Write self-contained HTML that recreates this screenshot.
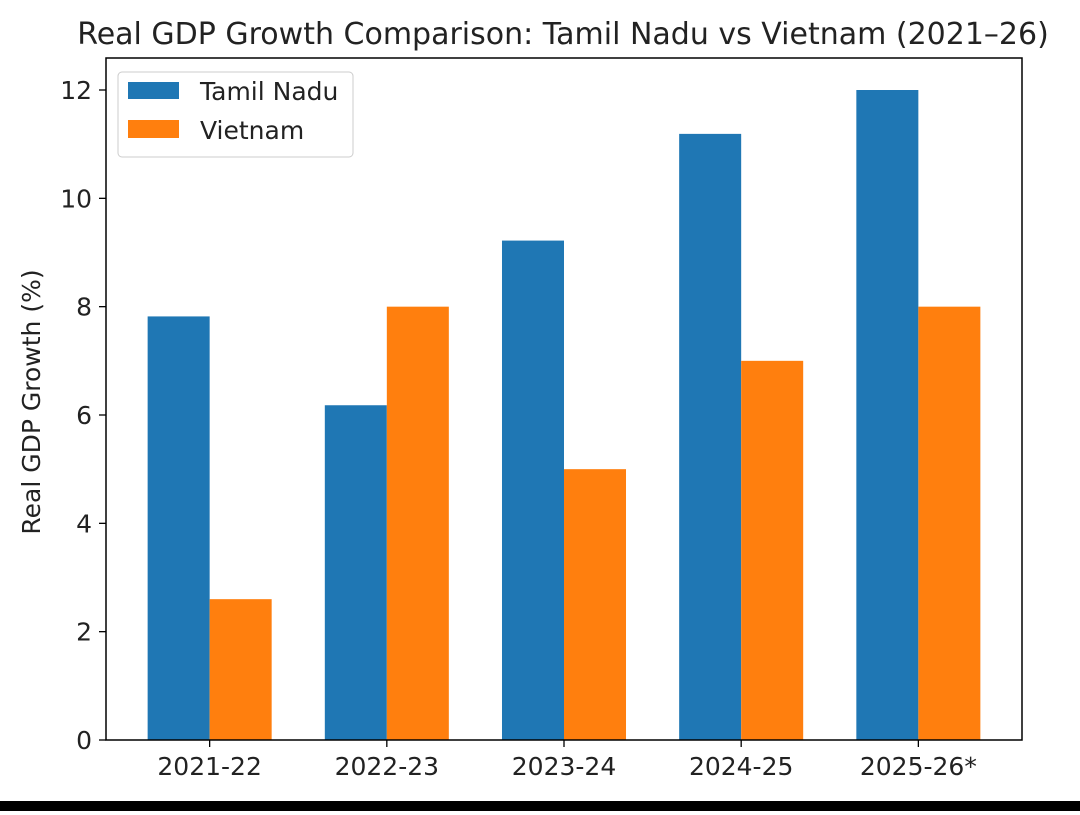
<!DOCTYPE html>
<html><head><meta charset="utf-8"><style>
body{margin:0;background:#fff;width:1080px;height:811px;overflow:hidden;font-family:"DejaVu Sans","Liberation Sans",sans-serif}
</style></head><body>
<svg width="1080" height="811" xmlns="http://www.w3.org/2000/svg">
<rect x="0" y="0" width="1080" height="811" fill="#fff"/>
<rect x="0" y="801" width="1080" height="10" fill="#000"/>
<text x="563" y="44" font-size="30" text-anchor="middle" fill="#222">Real GDP Growth Comparison: Tamil Nadu vs Vietnam (2021–26)</text>
<g id="bars"></g>
<g id="axes"></g>
<text transform="translate(40,402) rotate(-90)" font-size="25" text-anchor="middle" fill="#222">Real GDP Growth (%)</text>
<g>
<rect x="118" y="72" width="235" height="85" rx="4" fill="#fff" stroke="#ccc"/>
<rect x="128" y="82" width="51" height="17" fill="#1f77b4"/>
<text x="200" y="100" font-size="25" fill="#222">Tamil Nadu</text>
<rect x="128" y="120" width="51" height="18" fill="#ff7f0e"/>
<text x="200" y="139" font-size="25" fill="#222">Vietnam</text>
</g>
</svg>
<script>
const categories=["2021-22","2022-23","2023-24","2024-25","2025-26*"];
const tamilNadu=[7.82,6.18,9.22,11.19,12.0];
const vietnam=[2.6,8.0,5.0,7.0,8.0];
const yTicks=[0,2,4,6,8,10,12];
const L=106,R=1022,T=58,B=740;
const xs=i=>L+(i+0.585)*((R-L)/5.17);
const ys=v=>B-v*((B-90)/12);
const bw=0.35*((R-L)/5.17);
const NS="http://www.w3.org/2000/svg";
const bars=document.getElementById('bars'),axes=document.getElementById('axes');
function mk(tag,attrs,parent){const e=document.createElementNS(NS,tag);for(const k in attrs)e.setAttribute(k,attrs[k]);parent.appendChild(e);return e;}
categories.forEach((c,i)=>{
 const a=mk('rect',{x:xs(i)-bw,y:ys(tamilNadu[i]),width:bw,height:B-ys(tamilNadu[i]),fill:'#1f77b4'},bars);
 
 
 const b=mk('rect',{x:xs(i),y:ys(vietnam[i]),width:bw,height:B-ys(vietnam[i]),fill:'#ff7f0e'},bars);
 
 
 mk('line',{x1:xs(i),x2:xs(i),y1:B,y2:B+7,stroke:'#000','stroke-width':1.3},axes);
 const t=mk('text',{x:xs(i),y:B+35,'font-size':25,'text-anchor':'middle',fill:'#222'},axes);
 t.textContent=c;
 
 
});
yTicks.forEach(v=>{
 mk('line',{x1:L-7,x2:L,y1:ys(v),y2:ys(v),stroke:'#000','stroke-width':1.3},axes);
 const t=mk('text',{x:L-14,y:ys(v)+9,'font-size':25,'text-anchor':'end',fill:'#222'},axes);
 t.textContent=v;
 
 
});
const f=mk('rect',{x:L,y:T,width:R-L,height:B-T,fill:'none',stroke:'#000','stroke-width':1.5},axes);


</script>
</body></html>
